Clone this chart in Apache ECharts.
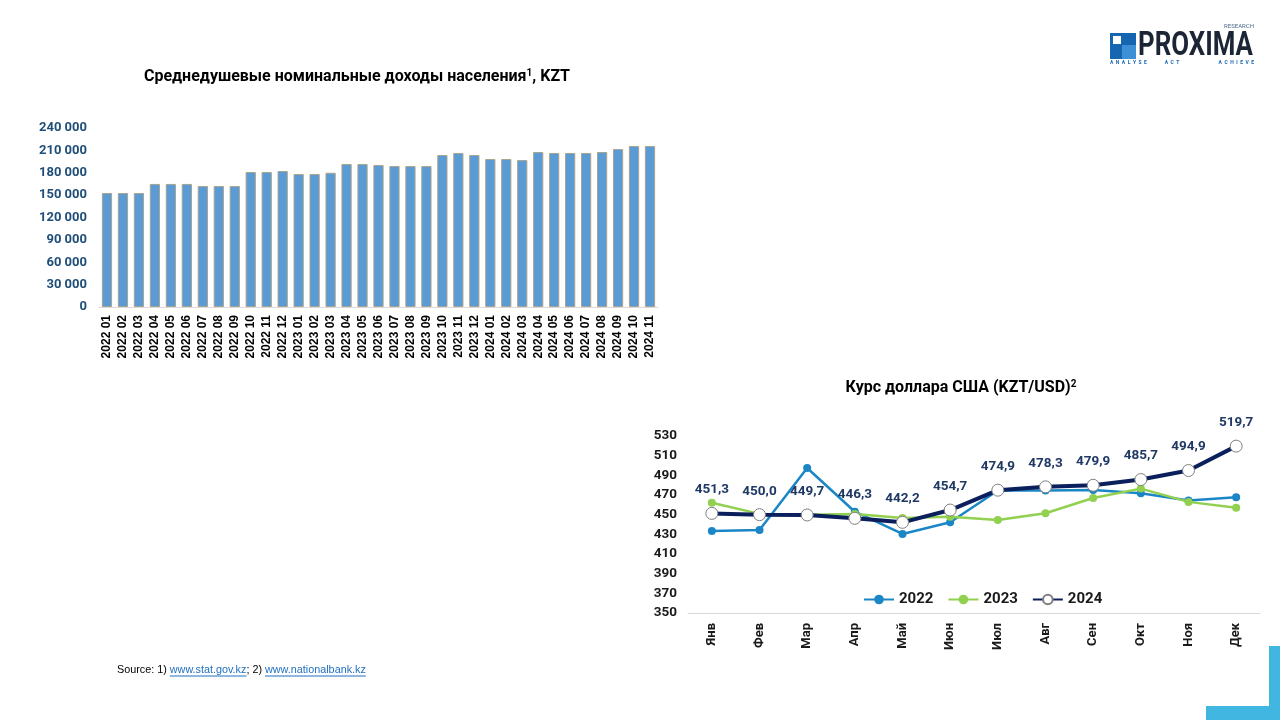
<!DOCTYPE html>
<html><head><meta charset="utf-8">
<script src="https://cdn.jsdelivr.net/npm/echarts@6/dist/echarts.min.js"></script>
<style>html,body{margin:0;padding:0;background:#fff}#c{width:1280px;height:720px}</style>
</head><body><div id="c"></div>
<script>
var incomeCats = ['2022 01','2022 02','2022 03','2022 04','2022 05','2022 06','2022 07','2022 08','2022 09','2022 10','2022 11','2022 12',
  '2023 01','2023 02','2023 03','2023 04','2023 05','2023 06','2023 07','2023 08','2023 09','2023 10','2023 11','2023 12',
  '2024 01','2024 02','2024 03','2024 04','2024 05','2024 06','2024 07','2024 08','2024 09','2024 10','2024 11'];
var incomeValues = [152800,152800,152800,165000,165000,165000,162200,162200,162200,181000,181000,182300,
  178300,178300,180000,191700,191700,190400,189000,189000,189000,203800,206500,203800,
  198400,198400,197000,207800,206500,206500,206500,207800,211800,215900,215900];
var months = ['Янв','Фев','Мар','Апр','Май','Июн','Июл','Авг','Сен','Окт','Ноя','Дек'];
var usd2022 = [433.4,434.4,497.5,453.0,430.4,442.3,474.5,474.6,475.2,471.8,464.5,467.8];
var usd2023 = [462.2,450.8,449.9,450.6,446.5,448.0,444.6,451.4,467.0,476.5,463.0,457.1];
var usd2024 = [451.3,450.0,449.7,446.3,442.2,454.7,474.9,478.3,479.9,485.7,494.9,519.7];
var seriesNames = ['2022','2023','2024'];
var titleIncome = 'Среднедушевые номинальные доходы населения';
var titleUsd = 'Курс доллара США (KZT/USD)';

var chart = echarts.init(document.getElementById('c'), null, {renderer:'canvas'});

var srcSize = 10.8;
var mctx = document.createElement('canvas').getContext('2d');
mctx.font = srcSize + 'px "Liberation Sans"';
function w(t){return mctx.measureText(t).width;}
var sx = 117, sy = 670;
var p1 = 'Source: 1) ', l1 = 'www.stat.gov.kz', p2 = '; 2) ', l2 = 'www.nationalbank.kz';
var x1 = sx + w(p1), x2 = x1 + w(l1), x3 = x2 + w(p2), x4 = x3 + w(l2);
var srcFont = {fontFamily:'Liberation Sans', fontSize:srcSize};
function txt(x, t, color){return {type:'text', x:x, y:sy, style:Object.assign({text:t, fill:color, verticalAlign:'middle'}, srcFont)};}
function tag(x, t, align){return {type:'text', x:x, y:63, style:{text:t, align:align, verticalAlign:'middle', fontFamily:'Roboto', fontWeight:'bold', fontSize:5, fill:'#1565b0'}};}

chart.setOption({
  animation:false,
  textStyle:{fontFamily:'Roboto'},
  grid:[
    {left:99, right:622, top:128, bottom:413},
    {left:688, right:20, top:436, bottom:107}
  ],
  legend:{
    left:858, top:587, itemWidth:30, itemHeight:12, itemGap:14,
    data:seriesNames,
    textStyle:{fontFamily:'Roboto', fontWeight:'bold', fontSize:15, color:'#1a1a1a'}
  },
  xAxis:[
    {type:'category', gridIndex:0, data:incomeCats,
     axisLine:{lineStyle:{color:'#d9d9d9'}}, axisTick:{show:false},
     axisLabel:{rotate:90, interval:0, fontFamily:'Liberation Sans', fontWeight:'bold', fontSize:12, color:'#000', margin:8}},
    {type:'category', gridIndex:1, data:months,
     axisLine:{lineStyle:{color:'#d9d9d9'}}, axisTick:{show:false},
     axisLabel:{rotate:90, interval:0, fontFamily:'Roboto', fontWeight:'bold', fontSize:13, color:'#1a1a1a', margin:10}}
  ],
  yAxis:[
    {type:'value', gridIndex:0, min:0, max:240000, interval:30000,
     splitLine:{show:false}, axisLine:{show:false}, axisTick:{show:false},
     axisLabel:{fontFamily:'Roboto', fontWeight:'bold', fontSize:13, color:'#1f4e79', margin:12,
       formatter:function(v){return String(v).replace(/\B(?=(\d{3})+(?!\d))/g,' ');}}},
    {type:'value', gridIndex:1, min:350, max:530, interval:20,
     splitLine:{show:false}, axisLine:{show:false}, axisTick:{show:false},
     axisLabel:{fontFamily:'Roboto', fontWeight:'bold', fontSize:13.5, color:'#1a1a1a', margin:11}}
  ],
  series:[
    {type:'bar', xAxisIndex:0, yAxisIndex:0, data:incomeValues, barCategoryGap:'36%',
     itemStyle:{color:'#5b9bd5', borderColor:'#a9a48c', borderWidth:1}},
    {name:seriesNames[0], type:'line', xAxisIndex:1, yAxisIndex:1, data:usd2022, z:3,
     symbol:'circle', symbolSize:8, lineStyle:{color:'#1b86c6', width:2.5},
     itemStyle:{color:'#1b86c6'}},
    {name:seriesNames[1], type:'line', xAxisIndex:1, yAxisIndex:1, data:usd2023, z:4,
     symbol:'circle', symbolSize:8, lineStyle:{color:'#92d050', width:2.5},
     itemStyle:{color:'#92d050'}},
    {name:seriesNames[2], type:'line', xAxisIndex:1, yAxisIndex:1, data:usd2024, z:5,
     symbol:'circle', symbolSize:12, lineStyle:{color:'#0a1f5c', width:4},
     itemStyle:{color:'#ffffff', borderColor:'#7f7f7f', borderWidth:1},
     label:{show:true, position:'top', distance:10, fontFamily:'Roboto', fontWeight:'bold', fontSize:13.5, color:'#1f3864',
       formatter:function(p){return p.value.toFixed(1).replace('.',',');}}}
  ],
  graphic:[
    {type:'text', x:357, y:77, style:{text:'{a|'+titleIncome+'}{s|1}{a|, KZT}', align:'center', verticalAlign:'middle',
      rich:{a:{fontFamily:'Roboto', fontWeight:'bold', fontSize:16, fill:'#000'},
            s:{fontFamily:'Roboto', fontWeight:'bold', fontSize:10, fill:'#000', verticalAlign:'top', padding:[0,0,8,0]}}}},
    {type:'text', x:961, y:388, style:{text:'{a|'+titleUsd+'}{s|2}', align:'center', verticalAlign:'middle',
      rich:{a:{fontFamily:'Roboto', fontWeight:'bold', fontSize:16, fill:'#000'},
            s:{fontFamily:'Roboto', fontWeight:'bold', fontSize:10, fill:'#000', verticalAlign:'top', padding:[0,0,8,0]}}}},
    txt(sx, p1, '#000'), txt(x1, l1, '#1f6fbf'), txt(x2, p2, '#000'), txt(x3, l2, '#1f6fbf'),
    {type:'line', shape:{x1:x1, y1:sy+6, x2:x2, y2:sy+6}, style:{stroke:'#1f6fbf', lineWidth:1}},
    {type:'line', shape:{x1:x3, y1:sy+6, x2:x4, y2:sy+6}, style:{stroke:'#1f6fbf', lineWidth:1}},
    {type:'rect', shape:{x:1110, y:33, width:26, height:26}, style:{fill:'#1565b0'}},
    {type:'rect', shape:{x:1122, y:45, width:14, height:14}, style:{fill:'#3d8fd6'}},
    {type:'rect', shape:{x:1113, y:36, width:8, height:8}, style:{fill:'#ffffff'}},
    {type:'text', x:1138, y:46, scaleX:0.76,
      style:{text:'PROXIMA', fontFamily:'Roboto', fontWeight:'bold', fontSize:34, fill:'#1c2535', verticalAlign:'middle'}},
    {type:'text', x:1254, y:26, style:{text:'RESEARCH', align:'right', verticalAlign:'middle', fontFamily:'Roboto', fontSize:6, fill:'#4a6a8a'}},
    tag(1110, 'A  N  A  L  Y  S  E', 'left'), tag(1172, 'A  C  T', 'center'), tag(1254, 'A  C  H  I  E  V  E', 'right'),
    {type:'rect', shape:{x:1269, y:646, width:11, height:74}, style:{fill:'#41b6e0'}},
    {type:'rect', shape:{x:1206, y:706, width:74, height:14}, style:{fill:'#41b6e0'}}
  ]
});
</script></body></html>
